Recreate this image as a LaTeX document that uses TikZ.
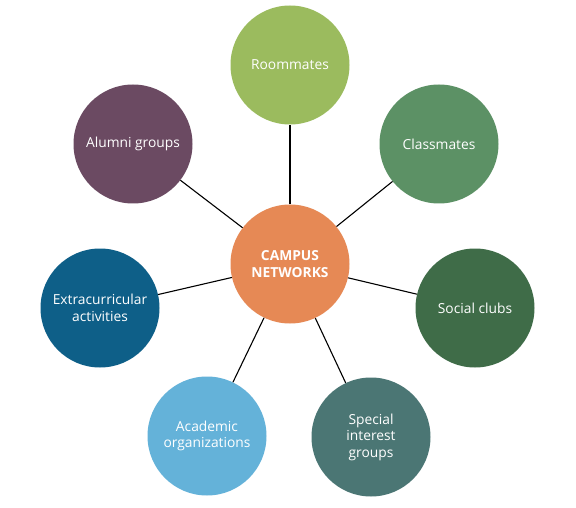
\documentclass[tikz,border=0pt]{standalone}
\usepackage{fontspec}
\setmainfont{Open Sans}
\usepackage{xcolor}
\usepackage{tikz}
\usetikzlibrary{calc}
\definecolor{hubOrange}{HTML}{E68955}
\definecolor{roomGreen}{HTML}{9BBB5E}
\definecolor{classGreen}{HTML}{5C9165}
\definecolor{clubGreen}{HTML}{3F6C48}
\definecolor{specialTeal}{HTML}{4B7674}
\definecolor{academicBlue}{HTML}{64B2D9}
\definecolor{extraBlue}{HTML}{0E5F88}
\definecolor{alumniPlum}{HTML}{6B4A62}

\tikzset{
    bubble/.style={circle, minimum size=119pt, inner sep=0pt, text=white,
        align=center, font=\fontsize{13.8}{16.5}\selectfont},
    hub/.style={bubble, fill=hubOrange, font=\fontsize{13.8}{16.5}\selectfont\bfseries},
    spoke/.style={line width=1.1pt, black}
}

\begin{document}
\begin{tikzpicture}[x=1pt, y=-1pt]
    \useasboundingbox[fill=white] (0,0) rectangle (576,508);
    % outer circles
    \node[bubble, fill=roomGreen]    (room)   at (290,65)  {Roommates};
    \node[bubble, fill=classGreen]   (class)  at (439,144) {Classmates};
    \node[bubble, fill=clubGreen]    (clubs)  at (475,308) {Social clubs};
    \node[bubble, fill=specialTeal]  (special) at (371,437) {Special\\interest\\groups};
    \node[bubble, fill=academicBlue] (academic) at (207,436) {Academic\\organizations};
    \node[bubble, fill=extraBlue]    (extra)  at (100,308) {Extracurricular\\activities};
    \node[bubble, fill=alumniPlum]   (alumni) at (133,144) {Alumni groups};
    % centre
    \node[hub] (campus) at (290,264) {CAMPUS\\NETWORKS};
    \foreach \n in {room,class,clubs,special,academic,extra,alumni}
        \draw[spoke] (campus) -- (\n);
\end{tikzpicture}
\end{document}
